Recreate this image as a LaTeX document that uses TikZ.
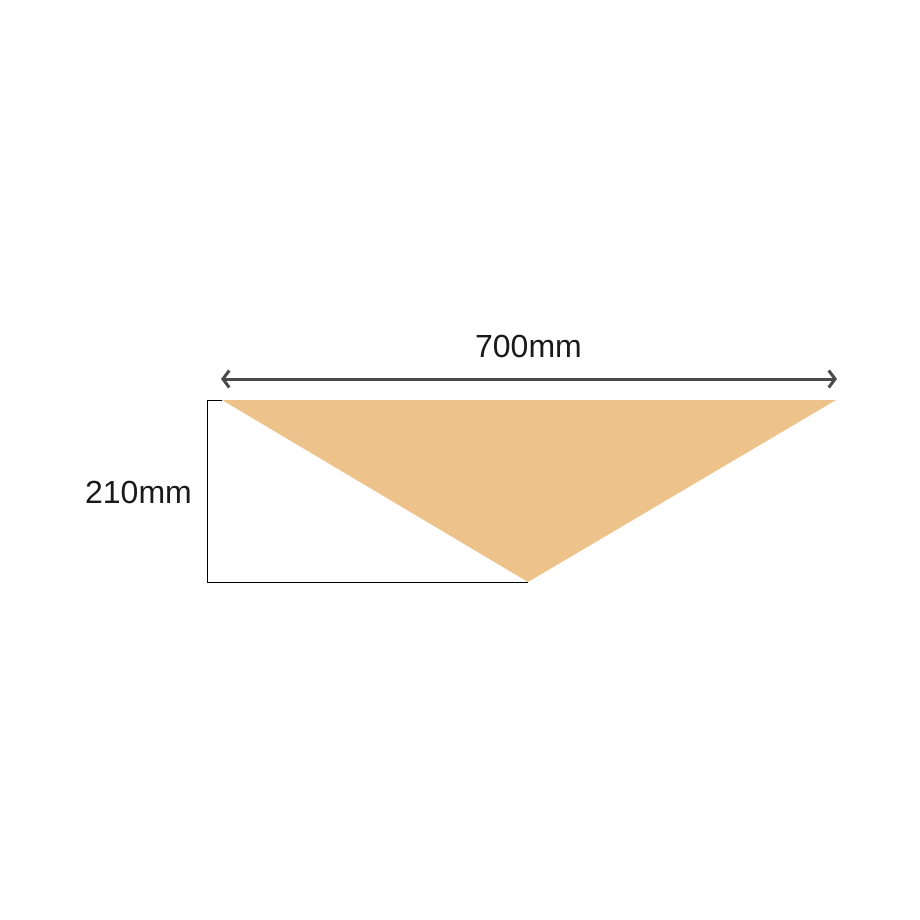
\documentclass[tikz,border=0pt]{standalone}
\usepackage{fontspec}
\setmainfont{Liberation Sans}
\usetikzlibrary{arrows.meta,positioning}
\definecolor{sailfill}{HTML}{EDC38B}
\definecolor{dimgray}{HTML}{4A4A4A}
\definecolor{labelink}{HTML}{1A1A1A}
\tikzset{
  dimarrow/.style={dimgray,line width=1.5pt,{Straight Barb[length=3.2pt,width=8.5pt]}-{Straight Barb[length=3.2pt,width=8.5pt]}},
  bracket/.style={black,line width=0.8pt},
  dimlabel/.style={text=labelink,font=\fontsize{16}{19}\selectfont,inner sep=0pt}
}
\begin{document}
\begin{tikzpicture}[x=0.5pt,y=-0.5pt]
\useasboundingbox (0,0) rectangle (920,920);
\coordinate (tl) at (222,400);
\coordinate (tr) at (836,400);
\coordinate (apex) at (528,582);
\coordinate (brtop) at (207.5,400.5);
\coordinate (brbot) at (207.5,582.5);
\coordinate (arl) at (221,379);
\coordinate (arr) at (837,379);
\fill[sailfill] (tl) -- (tr) -- (apex) -- cycle;
\draw[bracket] (tl |- brtop) -- (brtop) -- (brbot) -- (apex |- brbot);
\draw[dimarrow] (arl) -- (arr);
\node[dimlabel] (width) at (528.5,346.5) {700mm};
\node[dimlabel] (height) at (138.5,492.5) {210mm};
\end{tikzpicture}
\end{document}
